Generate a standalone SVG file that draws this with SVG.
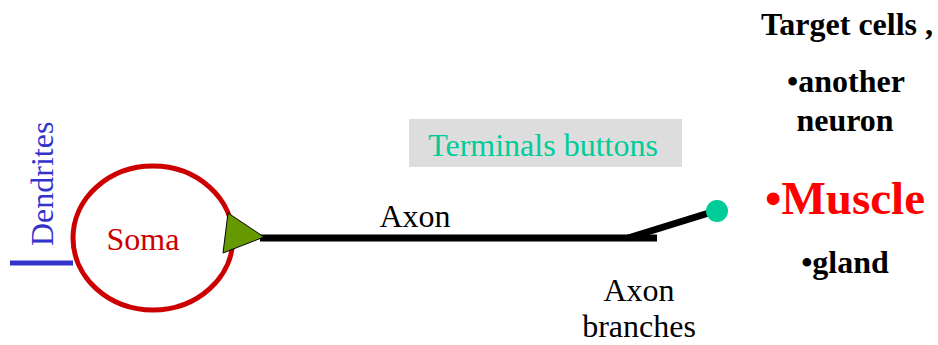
<svg xmlns="http://www.w3.org/2000/svg" width="938" height="345" viewBox="0 0 938 345">
  <style>
    .serif { font-family: "Liberation Serif", "Times New Roman", serif; }
    .lbl { font-size: 32px; }
    .target { font-size: 32px; font-weight: bold; text-anchor: middle; }
    .axon { stroke: #000; stroke-width: 7; fill: none; }
  </style>
  <rect width="938" height="345" fill="#fff"/>

  <!-- dendrites -->
  <g id="dendrites">
    <line x1="10" y1="263" x2="73" y2="263" stroke="#3333cc" stroke-width="5"/>
    <text class="serif lbl" transform="translate(53,246) rotate(-90)" fill="#3333cc">Dendrites</text>
  </g>

  <!-- cell body -->
  <g id="soma">
    <ellipse cx="153" cy="238" rx="80" ry="72" fill="none" stroke="#cc0000" stroke-width="5"/>
    <text class="serif lbl" x="143" y="250" fill="#cc0000" text-anchor="middle">Soma</text>
  </g>

  <!-- axon and branches -->
  <g id="connectors">
    <line class="axon" x1="260" y1="238" x2="657" y2="238"/>
    <line class="axon" x1="628" y1="238" x2="712" y2="212"/>
  </g>

  <g id="axon-hillock">
    <polygon points="228,213 264,237 223,253" fill="#669900" stroke="#000" stroke-width="1"/>
  </g>

  <g id="axon-label">
    <text class="serif lbl" x="415" y="227" text-anchor="middle">Axon</text>
  </g>

  <g id="terminal">
    <circle cx="717" cy="211" r="11" fill="#00cc99"/>
  </g>

  <g id="terminals-label">
    <rect x="409" y="119" width="273" height="48" fill="#dddddd"/>
    <text class="serif lbl" x="543" y="156" fill="#00cc99" text-anchor="middle">Terminals buttons</text>
  </g>

  <g id="branches-label">
    <text class="serif lbl" x="639" y="301" text-anchor="middle">Axon</text>
    <text class="serif lbl" x="639" y="337" text-anchor="middle">branches</text>
  </g>

  <!-- target cells -->
  <g id="targets">
    <text class="serif target" x="847" y="35" fill="#000">Target cells ,</text>
    <text class="serif target" x="846" y="92" fill="#000">•another</text>
    <text class="serif target" x="845" y="131" fill="#000">neuron</text>
    <text class="serif target" x="845" y="214" fill="#ff0000" style="font-size:47px">•Muscle</text>
    <text class="serif target" x="845" y="273" fill="#000">•gland</text>
  </g>
</svg>
